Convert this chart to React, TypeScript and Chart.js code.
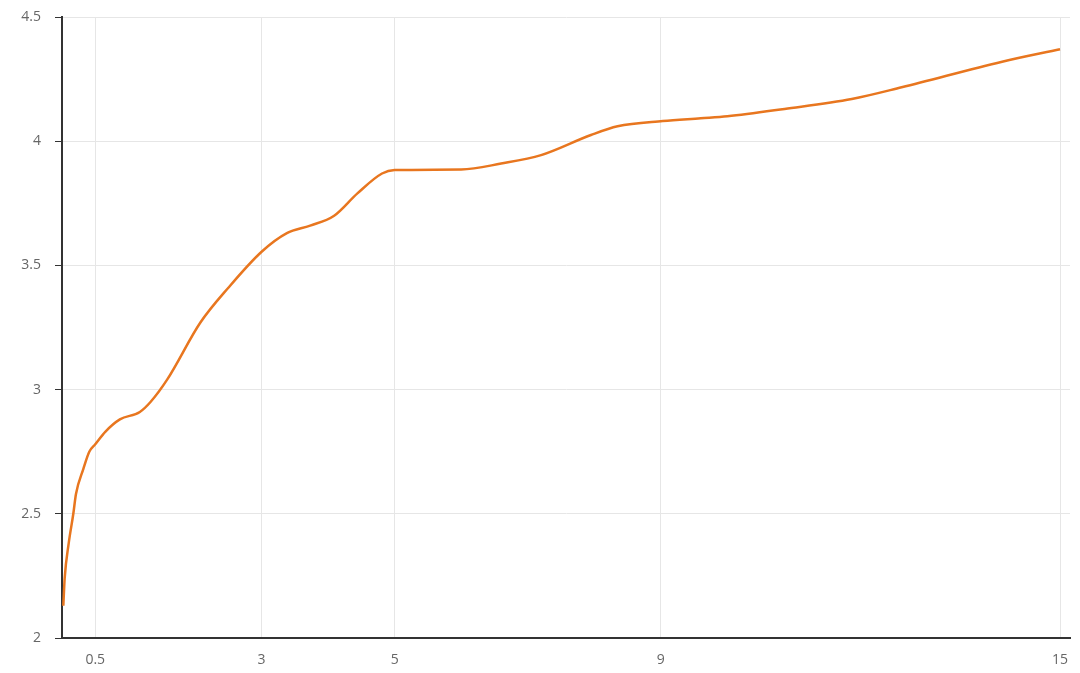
import React, { useEffect, useRef } from 'react';
import { Chart, registerables } from 'chart.js';

Chart.register(...registerables);

const tenors = [0.02, 0.04, 0.1, 0.17, 0.21, 0.32, 0.41, 0.5, 0.65, 0.87, 1.17, 1.33, 1.58, 2.08, 2.5, 3.0, 3.38, 3.73, 4.09, 4.44, 4.81, 5.0, 6.0, 6.6, 7.2, 7.95, 8.35, 9.03, 9.6, 10.0, 10.86, 11.87, 12.62, 14.13, 15.0];
const yields = [2.13, 2.24, 2.38, 2.5, 2.58, 2.68, 2.75, 2.78, 2.83, 2.88, 2.91, 2.95, 3.04, 3.27, 3.41, 3.555, 3.63, 3.66, 3.7, 3.79, 3.87, 3.884, 3.886, 3.91, 3.944, 4.025, 4.06, 4.081, 4.092, 4.1, 4.13, 4.17, 4.217, 4.32, 4.37];
const xTickValues = [0.5, 3, 5, 9, 15];
const yTickValues = [2, 2.5, 3, 3.5, 4, 4.5];

const FONT = '"Open Sans", "Noto Sans", sans-serif';

export default function App() {
  const ref = useRef<HTMLCanvasElement>(null);
  useEffect(() => {
    document.body.style.margin = '0';
    const chart = new Chart(ref.current as HTMLCanvasElement, {
      type: 'line',
      data: {
        datasets: [
          {
            data: tenors.map((x, i) => ({ x, y: yields[i] })),
            borderColor: '#E8761F',
            borderWidth: 2.5,
            pointRadius: 0,
            cubicInterpolationMode: 'monotone',
            fill: false,
          },
        ],
      },
      options: {
        animation: false,
        responsive: false,
        maintainAspectRatio: false,
        plugins: { legend: { display: false }, tooltip: { enabled: false } },
        layout: { padding: { top: 17, right: 10, left: 0, bottom: 0 } },
        scales: {
          x: {
            type: 'linear',
            min: 0,
            max: 15.15,
            afterBuildTicks: (s: any) => {
              s.ticks = xTickValues.map((v) => ({ value: v }));
            },
            afterFit: (s: any) => {
              s.height = 35;
              s.paddingRight = 0;
              s.paddingLeft = 0;
            },
            grid: { color: '#e6e6e6', drawTicks: false, lineWidth: 1 },
            border: { display: true, color: '#333', width: 2 },
            ticks: {
              color: '#666',
              font: { size: 14, family: FONT },
              padding: 14,
              maxRotation: 0,
              autoSkip: false,
              callback: (v: any) => String(v),
            },
          },
          y: {
            type: 'linear',
            min: 2,
            max: 4.5,
            afterBuildTicks: (s: any) => {
              s.ticks = yTickValues.map((v) => ({ value: v }));
            },
            afterFit: (s: any) => {
              s.width = 62;
              s.paddingTop = 0;
              s.paddingBottom = 0;
            },
            grid: { color: '#e6e6e6', tickColor: '#333', tickLength: 7, lineWidth: 1 },
            border: { display: true, color: '#333', width: 2 },
            ticks: {
              color: '#666',
              font: { size: 14, family: FONT },
              padding: 14,
              callback: (v: any) => String(v),
            },
          },
        },
      },
    } as any);
    return () => chart.destroy();
  }, []);
  return (
    <div style={{ position: 'absolute', left: 0, top: 0, width: 1080, height: 673, background: '#fff' }}>
      <canvas ref={ref} width={1080} height={673} style={{ display: 'block' }} />
    </div>
  );
}
